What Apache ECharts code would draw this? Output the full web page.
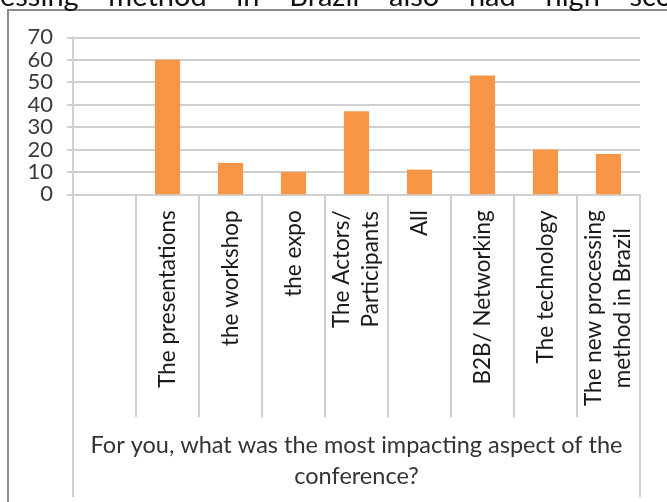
<!DOCTYPE html>
<html>
<head>
<meta charset="utf-8">
<script src="https://cdn.jsdelivr.net/npm/echarts@6/dist/echarts.min.js"></script>
<style>
html,body{margin:0;padding:0;background:#fff;}
#chart{width:667px;height:502px;}
</style>
</head>
<body>
<div id="chart"></div>
<script>
// ---- data ----
const categories = ['', 'The presentations', 'the workshop', 'the expo', 'The Actors/\nParticipants', 'All', 'B2B/ Networking', 'The technology', 'The new processing\nmethod in Brazil'];
const values = [null, 60, 14, 10, 37, 11, 53, 20, 18];
const yTickLabels = ['0', '10', '20', '30', '40', '50', '60', '70'];
const axisTitle = 'For you, what was the most impacting aspect of the\nconference?';
const topText = 'essing    method    in    Brazil    also    had    high    score';

const yMin = 0, yMax = 70, yStep = 10;
const FONT = 'Lato';
const GRID = '#d0d0d0';

const chart = echarts.init(document.getElementById('chart'), null, {renderer: 'canvas'});
chart.setOption({
  animation: false,
  backgroundColor: '#fff',
  graphic: [
    {type: 'rect', shape: {x: 8, y: 10, width: 720, height: 620}, style: {fill: 'none', stroke: '#8c8c8c', lineWidth: 2}, z: -10, silent: true},
    {type: 'text', x: 0, y: 11, style: {text: topText, font: '29px ' + FONT, fill: '#111', verticalAlign: 'bottom', align: 'left'}, silent: true}
  ],
  grid: {left: 73, right: 27, top: 37.3, bottom: 307.7, containLabel: false},
  xAxis: [
    {
      type: 'category',
      data: categories,
      boundaryGap: true,
      axisLine: {show: true, lineStyle: {color: GRID, width: 2}},
      axisTick: {show: true, interval: 0, length: 223, lineStyle: {color: GRID, width: 2}},
      axisLabel: {
        interval: 0, rotate: 90, margin: 16,
        formatter: function (v) {
          if (!v) return '';
          return v.split('\n').map(function (l) { return '{c|' + l + '}'; }).join('\n');
        },
        rich: {c: {align: 'center', fontFamily: FONT, fontSize: 22.5, color: '#1a1a1a', lineHeight: 29}}
      },
      name: axisTitle,
      nameLocation: 'middle',
      nameGap: 236,
      nameTextStyle: {fontFamily: FONT, fontSize: 23.5, color: '#333', lineHeight: 31, align: 'center'}
    },
    {
      type: 'value',
      min: 0, max: 1, interval: 1,
      position: 'bottom',
      axisLine: {show: false},
      axisTick: {show: true, length: 303, lineStyle: {color: GRID, width: 2}},
      axisLabel: {show: false},
      splitLine: {show: false}
    }
  ],
  yAxis: {
    type: 'value',
    min: yMin, max: yMax, interval: yStep,
    axisLine: {show: true, lineStyle: {color: GRID, width: 2}},
    axisTick: {show: true, length: 6, lineStyle: {color: GRID, width: 2}},
    splitLine: {show: true, lineStyle: {color: GRID, width: 2}},
    axisLabel: {
      margin: 20, fontFamily: FONT, fontSize: 22, color: '#3a3a3a',
      formatter: function (v) { const i = Math.round((v - yMin) / yStep); return yTickLabels[i] !== undefined ? yTickLabels[i] : String(v); }
    }
  },
  series: [{
    type: 'bar',
    xAxisIndex: 0,
    data: values,
    barWidth: '40%',
    itemStyle: {color: '#f79646'}
  }]
});
</script>
</body>
</html>
